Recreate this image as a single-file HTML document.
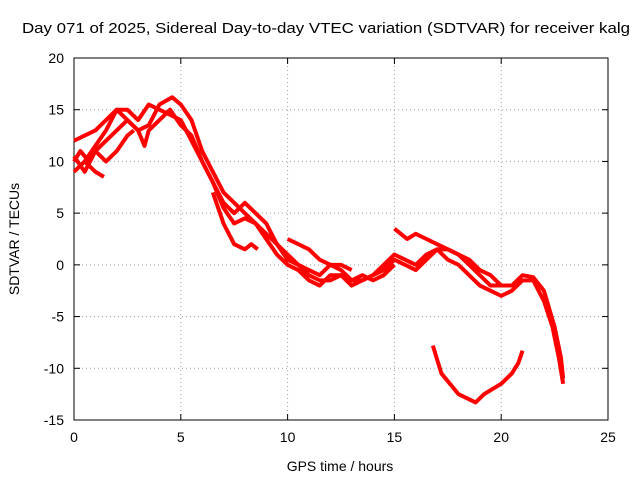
<!DOCTYPE html>
<html><head><meta charset="utf-8"><style>
body{margin:0;background:#fff}
svg{display:block;font-family:"Liberation Sans",sans-serif}
</style></head><body>
<svg id="c" width="640" height="480"></svg>
<script>
const xTicks=[0,5,10,15,20,25];
const yTicks=[20,15,10,5,0,-5,-10,-15];
const arcA=[[0,9],[0.5,10],[1,11.5],[1.5,13],[2,15],[2.5,14],[3,13],[3.5,13.5],[4,15.5],[4.6,16.2],[5,15.5],[5.5,14],[6,11],[6.5,9],[7,7],[7.5,6],[8,5],[8.5,4],[9,2.5],[9.5,1],[10,0],[10.5,-0.5],[11,-1.5],[11.5,-2],[12,-1],[12.5,-1],[13,-2],[13.5,-1.5],[14,-1],[14.5,0],[15,1],[15.5,0.5],[16,0],[16.5,1],[17,1.5],[17.5,0.5],[18,0],[18.5,-1],[19,-2],[19.5,-2.5],[20,-3],[20.5,-2.5],[21,-1.5],[21.5,-1.5],[22,-3.5],[22.4,-6],[22.7,-9],[22.9,-11.5]];
const arcB=[[0,12],[0.5,12.5],[1,13],[1.5,14],[2,15],[2.5,15],[3,14],[3.5,15.5],[4,15],[4.5,14.5],[5,14],[5.5,12],[6,10],[6.5,8],[7,6],[7.5,5],[8,6],[8.5,5],[9,4],[9.5,2],[10,1],[10.5,0],[11,-0.5],[11.5,-1],[12,0],[12.5,-0.5],[13,-1.5],[13.5,-1.5],[14,-1],[14.5,-0.5],[15,0.5],[15.5,0],[16,-0.5],[16.5,0.5],[17,1.5],[17.5,1.5],[18,1],[18.5,0],[19,-1],[19.5,-2],[20,-2],[20.5,-2],[21,-1],[21.5,-1.2],[22,-2.5],[22.5,-6],[22.8,-9],[22.9,-11]];
const arcC=[[0,10],[0.3,11],[0.7,10],[1,11],[1.5,12],[2,13],[2.5,14],[3,13],[3.3,11.5],[3.5,13],[4,14],[4.5,15],[5,13.5],[5.5,12.5],[6,10],[6.5,8],[7,5.5],[7.5,4],[8,4.5],[8.5,4],[9,3],[9.5,2],[10,0.5],[10.5,0],[11,-1],[11.5,-1.5],[12,-1.5],[12.5,-1],[13,-1.5],[13.5,-1],[14,-1.5],[14.5,-1],[15,0]];
const arcD=[[0,10.5],[0.5,9],[1,11],[1.5,10],[2,11],[2.5,12.5],[2.8,13]];
const arcE=[[0.5,10],[1,9],[1.4,8.5]];
const arcF=[[6.5,7],[7,4],[7.5,2],[8,1.5],[8.3,2],[8.6,1.5]];
const arcG=[[10,2.5],[10.5,2],[11,1.5],[11.5,0.5],[12,0],[12.5,0],[13,-0.5]];
const arcH=[[15,3.5],[15.3,3],[15.6,2.5],[16,3],[16.5,2.5],[17,2],[17.5,1.5],[18,1],[18.5,0.5],[19,-0.5],[19.5,-1],[20,-2]];
const arcI=[[16.8,-7.8],[17.2,-10.5],[17.6,-11.5],[18,-12.5],[18.5,-13],[18.8,-13.3],[19.2,-12.5],[19.6,-12],[20,-11.5],[20.5,-10.5],[20.8,-9.5],[21,-8.3]];
const arcs=[arcA,arcB,arcC,arcD,arcE,arcF,arcG,arcH,arcI];
const L=74,R=608,T=58,B=420;
const sx=v=>L+(v-0)/(25-0)*(R-L);
const sy=v=>T+(20-v)/(20-(-15))*(B-T);
const svg=document.getElementById('c');
const NS='http://www.w3.org/2000/svg';
function mk(t,a,txt){const e=document.createElementNS(NS,t);for(const k in a)e.setAttribute(k,a[k]);if(txt!==undefined)e.textContent=txt;svg.appendChild(e);return e;}
xTicks.forEach(v=>{
 if(v>0&&v<25){const g=mk('line',{x1:sx(v),x2:sx(v),y1:T,y2:B,stroke:'#a0a0a0','stroke-dasharray':'1,3'});
 }
 const t=mk('text',{x:sx(v),y:B+22,'text-anchor':'middle','font-size':14},v);
 
 mk('line',{x1:sx(v),x2:sx(v),y1:B,y2:B-6,stroke:'#000'});mk('line',{x1:sx(v),x2:sx(v),y1:T,y2:T+6,stroke:'#000'});
});
yTicks.forEach(v=>{
 if(v<20&&v>-15){const g=mk('line',{x1:L,x2:R,y1:sy(v),y2:sy(v),stroke:'#a0a0a0','stroke-dasharray':'1,3'});
 }
 const t=mk('text',{x:L-10,y:sy(v)+5,'text-anchor':'end','font-size':14},v);
 
 mk('line',{x1:L,x2:L+6,y1:sy(v),y2:sy(v),stroke:'#000'});mk('line',{x1:R,x2:R-6,y1:sy(v),y2:sy(v),stroke:'#000'});
});
const fr=mk('rect',{x:L,y:T,width:R-L,height:B-T,fill:'none',stroke:'#000'});

arcs.forEach(a=>{
 const p=mk('polyline',{points:a.map(d=>sx(d[0])+','+sy(d[1])).join(' '),fill:'none',stroke:'#ff0000','stroke-width':4,'stroke-linejoin':'round'});
 
});
const ti=mk('text',{x:326,y:33,'text-anchor':'middle','font-size':15,textLength:608,lengthAdjust:'spacingAndGlyphs'},'Day 071 of 2025, Sidereal Day-to-day VTEC variation (SDTVAR) for receiver kalg');

const xt=mk('text',{x:340,y:471,'text-anchor':'middle','font-size':14},'GPS time / hours');

const yt=mk('text',{x:0,y:0,'text-anchor':'middle','font-size':14,transform:'translate(19,239) rotate(-90)'},'SDTVAR / TECUs');

</script>
</body></html>
